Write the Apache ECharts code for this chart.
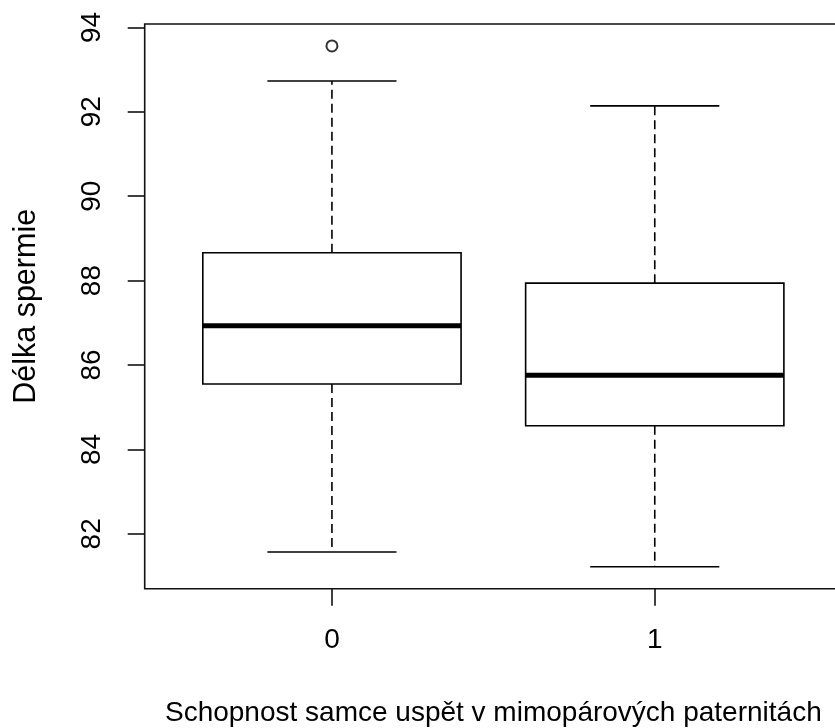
<!DOCTYPE html>
<html>
<head>
<meta charset="utf-8">
<script src="https://cdn.jsdelivr.net/npm/echarts@6/dist/echarts.min.js"></script>
<style>
  html, body { margin: 0; padding: 0; background: #fff; overflow: hidden; }
  /* the plot frame runs a little past the right edge of the window */
  #chart { width: 850px; height: 728px; }
</style>
</head>
<body>
<div id="chart"></div>
<script>
// Sperm length by the male's success in extra-pair paternity (0 = no, 1 = yes)
const groups = ['0', '1'];
const lowerWhisker = [81.57, 81.22];
const q1 = [85.55, 84.56];
const median = [86.93, 85.76];
const q3 = [88.66, 87.94];
const upperWhisker = [92.73, 92.14];
// outliers: [group index, value]
const outliers = [[0, 93.56]];
const yTicks = [82, 84, 86, 88, 90, 92, 94];

const FONT = '"Liberation Sans", Arial, sans-serif';
const LINE = '#000';

const boxData = groups.map((g, i) => [i + 1, lowerWhisker[i], q1[i], median[i], q3[i], upperWhisker[i]]);
const outlierData = outliers.map(o => [o[0] + 1, o[1]]);

function renderBox(params, api) {
  const x = api.value(0);
  const lo = api.coord([x, api.value(1)]);
  const b1 = api.coord([x, api.value(2)]);
  const md = api.coord([x, api.value(3)]);
  const b3 = api.coord([x, api.value(4)]);
  const hi = api.coord([x, api.value(5)]);
  const halfBox = api.size([0.8, 0])[0] / 2;
  const halfStaple = api.size([0.4, 0])[0] / 2;
  const cx = lo[0];
  const solid = { stroke: LINE, lineWidth: 1.6, fill: null };
  const dashed = { stroke: LINE, lineWidth: 1.6, lineDash: [9, 5], fill: null };
  return {
    type: 'group',
    children: [
      { type: 'line', shape: { x1: cx, y1: b3[1], x2: cx, y2: hi[1] }, style: dashed },
      { type: 'line', shape: { x1: cx, y1: b1[1], x2: cx, y2: lo[1] }, style: dashed },
      { type: 'line', shape: { x1: cx - halfStaple, y1: hi[1], x2: cx + halfStaple, y2: hi[1] }, style: solid },
      { type: 'line', shape: { x1: cx - halfStaple, y1: lo[1], x2: cx + halfStaple, y2: lo[1] }, style: solid },
      { type: 'rect', shape: { x: cx - halfBox, y: b3[1], width: halfBox * 2, height: b1[1] - b3[1] },
        style: { stroke: LINE, lineWidth: 1.6, fill: '#fff' } },
      { type: 'line', shape: { x1: cx - halfBox, y1: md[1], x2: cx + halfBox, y2: md[1] },
        style: { stroke: LINE, lineWidth: 5 } }
    ]
  };
}

const chart = echarts.init(document.getElementById('chart'), null, { renderer: 'canvas' });
chart.setOption({
  animation: false,
  backgroundColor: '#fff',
  grid: {
    left: 144.7, top: 24, width: 697.3, height: 564.7,
    outerBoundsMode: 'none', containLabel: false,
    show: true, borderColor: '#111', borderWidth: 1.6, backgroundColor: 'transparent'
  },
  xAxis: {
    type: 'value', min: 0.42, max: 2.58,
    name: 'Schopnost samce uspět v mimopárových paternitách',
    nameLocation: 'middle', nameGap: 111,
    nameTextStyle: { fontFamily: FONT, fontSize: 28, color: '#000' },
    axisLine: { show: false },
    splitLine: { show: false },
    axisTick: { show: true, inside: false, length: 17, customValues: [1, 2], lineStyle: { color: '#111', width: 1.6 } },
    axisLabel: {
      customValues: [1, 2], margin: 38,
      fontFamily: FONT, fontSize: 28, color: '#000',
      formatter: v => groups[Math.round(v) - 1]
    }
  },
  yAxis: {
    type: 'value', min: 80.70, max: 94.08,
    name: 'Délka spermie',
    nameLocation: 'middle', nameGap: 103, nameRotate: 90,
    nameTextStyle: { fontFamily: FONT, fontSize: 30.5, color: '#000' },
    axisLine: { show: false },
    splitLine: { show: false },
    axisTick: { show: true, inside: false, length: 17, customValues: yTicks, lineStyle: { color: '#111', width: 1.6 } },
    axisLabel: {
      customValues: yTicks, rotate: 90, margin: 38,
      fontFamily: FONT, fontSize: 28, color: '#000',
      formatter: v => String(Math.round(v))
    }
  },
  series: [
    {
      type: 'custom',
      renderItem: renderBox,
      encode: { x: 0, y: [1, 2, 3, 4, 5] },
      data: boxData,
      clip: false
    },
    {
      type: 'scatter',
      data: outlierData,
      symbol: 'emptyCircle',
      symbolSize: 11,
      itemStyle: { color: '#000', borderColor: '#000', borderWidth: 1.5 },
      z: 3
    }
  ]
});
</script>
</body>
</html>
